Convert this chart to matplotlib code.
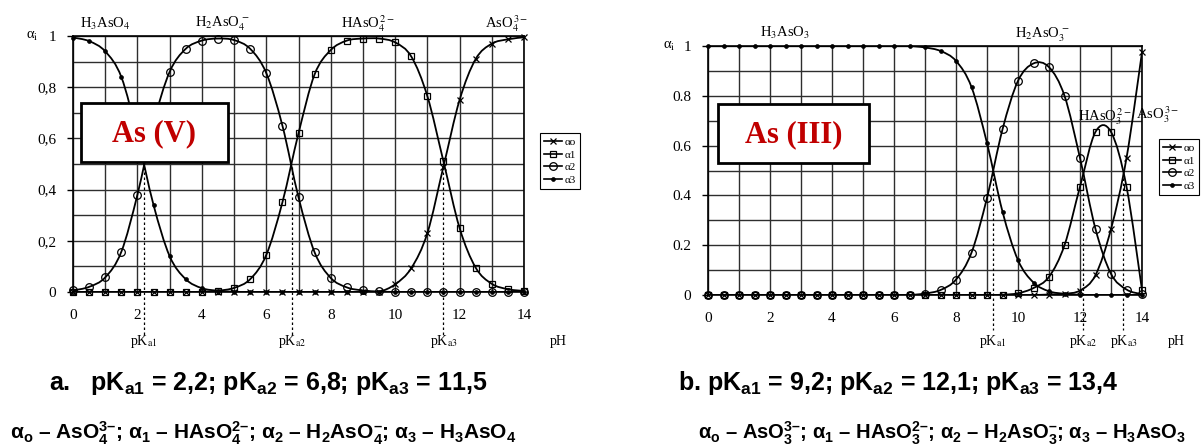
import numpy as np
import matplotlib
matplotlib.use("Agg")
import matplotlib.pyplot as plt
from matplotlib.path import Path
from matplotlib.patches import PathPatch, Rectangle
from matplotlib.lines import Line2D

plt.rcParams['font.family'] = ['Liberation Serif', 'DejaVu Serif']
plt.rcParams['mathtext.fontset'] = 'stix'
plt.rcParams['mathtext.rm'] = 'Liberation Sans:bold'
plt.rcParams['mathtext.it'] = 'Liberation Sans:bold'
plt.rcParams['mathtext.bf'] = 'Liberation Sans:bold'

# pH grid (markers every 0.5)
ph = np.arange(0, 14.01, 0.5)

# As(V)
a0_v = [0, 0, 0, 0, 0, 0, 0, 0, 0, 0, 0, 0, 0, 0, 0, 0, 0, 0, 0, 0.001,
        0.03, 0.093, 0.23, 0.49, 0.75, 0.91, 0.97, 0.987, 0.995]
a1_v = [0, 0, 0, 0, 0, 0, 0, 0, 0.001, 0.005, 0.016, 0.05, 0.145, 0.35, 0.62,
        0.85, 0.945, 0.982, 0.99, 0.99, 0.975, 0.92, 0.765, 0.51, 0.25, 0.095,
        0.032, 0.011, 0.004]
a2_v = [0.006, 0.02, 0.057, 0.157, 0.38, 0.66, 0.86, 0.95, 0.982, 0.99, 0.984,
        0.95, 0.855, 0.65, 0.37, 0.155, 0.055, 0.018, 0.006, 0.002, 0, 0, 0,
        0, 0, 0, 0, 0, 0]
a3_v = [0.994, 0.98, 0.94, 0.84, 0.61, 0.34, 0.14, 0.05, 0.015, 0.005, 0.001,
        0, 0, 0, 0, 0, 0, 0, 0, 0, 0, 0, 0, 0, 0, 0, 0, 0, 0]

# As(III)
a0_iii = [0, 0, 0, 0, 0, 0, 0, 0, 0, 0, 0, 0, 0, 0, 0, 0, 0, 0, 0, 0, 0, 0,
          0.002, 0.005, 0.018, 0.08, 0.265, 0.55, 0.975]
a1_iii = [0, 0, 0, 0, 0, 0, 0, 0, 0, 0, 0, 0, 0, 0, 0, 0, 0, 0, 0, 0.001,
          0.007, 0.028, 0.073, 0.2, 0.435, 0.655, 0.655, 0.435, 0.02]
a2_iii = [0, 0, 0, 0, 0, 0, 0, 0, 0, 0, 0, 0, 0, 0, 0.006, 0.02, 0.062, 0.17,
          0.39, 0.665, 0.86, 0.93, 0.915, 0.8, 0.55, 0.265, 0.085, 0.022, 0.003]
a3_iii = [1, 1, 1, 1, 1, 1, 1, 1, 1, 1, 1, 1, 1, 1, 0.994, 0.98, 0.94, 0.835,
          0.61, 0.335, 0.14, 0.05, 0.015, 0.005, 0.001, 0, 0, 0, 0]

pka_v = [2.2, 6.8, 11.5]
pka_iii = [9.2, 12.1, 13.4]

W, H = 1204, 446


def fx(px):
    return px / W


def fy(py):
    return 1 - py / H


def smooth_path(x, y):
    # excel-like smoothed line through the points
    n = len(x)
    verts = [(x[0], y[0])]
    codes = [Path.MOVETO]
    for i in range(n - 1):
        x0, y0 = (x[i - 1], y[i - 1]) if i > 0 else (x[i], y[i])
        x3, y3 = (x[i + 2], y[i + 2]) if i + 2 < n else (x[i + 1], y[i + 1])
        c1 = (x[i] + (x[i + 1] - x0) / 6, y[i] + (y[i + 1] - y0) / 6)
        c2 = (x[i + 1] - (x3 - x[i]) / 6, y[i + 1] - (y3 - y[i]) / 6)
        verts += [c1, c2, (x[i + 1], y[i + 1])]
        codes += [Path.CURVE4] * 3
    return Path(verts, codes)


styles = [dict(marker='x', ms=5, mew=0.9, mfc='none'),
          dict(marker='s', ms=5, mew=0.9, mfc='none'),
          dict(marker='o', ms=5.5, mew=0.9, mfc='none'),
          dict(marker='o', ms=2.8, mew=0.5, mfc='black')]
names = ['αo', 'α1', 'α2', 'α3']


def draw_panel(ax, series, pkas, dec, dash_bottom):
    ax.set_xlim(0, 14)
    ax.set_ylim(0, 1)
    ax.set_xticks(np.arange(0, 15, 1), minor=True)
    ax.set_xticks(np.arange(0, 15, 2))
    ax.set_yticks(np.arange(0, 1.01, 0.1), minor=True)
    ax.set_yticks(np.arange(0, 1.01, 0.2))
    ax.set_yticklabels(['0'] + [('%.1f' % v).replace('.', dec) for v in np.arange(0.2, 0.9, 0.2)] + ['1'])
    ax.grid(True, which='both', color='#2e2e2e', lw=1.0)
    ax.set_axisbelow(True)
    ax.tick_params(axis='x', which='both', length=0, pad=12, labelsize=11)
    ax.tick_params(axis='y', which='major', length=4, width=1, pad=8, labelsize=11)
    ax.tick_params(axis='y', which='minor', length=0)
    for s in ax.spines.values():
        s.set_linewidth(1.2)
    for vals, st in zip(series, styles):
        ax.add_patch(PathPatch(smooth_path(ph, vals), fill=False, lw=1.3,
                               edgecolor='black', zorder=3))
        ax.plot(ph, vals, linestyle='none', color='black', clip_on=False,
                zorder=4, **st)
    for i, p in enumerate(pkas):
        ax.plot([p, p], [0.49, dash_bottom], color='black', lw=0.9,
                linestyle=(0, (2, 2)), clip_on=False, zorder=5)
        # pKa label centred under its dashed line
        ax.annotate(r'pK$_\mathrm{a%d}$' % (i + 1), xy=(p, fy(342)),
                    xycoords=('data', 'figure fraction'), fontsize=10,
                    ha='center', va='center', annotation_clip=False)


fig = plt.figure(figsize=(W / 100, H / 100), dpi=100)
ax1 = fig.add_axes([fx(73), fy(292), fx(524 - 73), (292 - 36) / H])
ax2 = fig.add_axes([fx(708), fy(295), fx(1142 - 708), (295 - 46) / H])

draw_panel(ax1, [a0_v, a1_v, a2_v, a3_v], pka_v, ',', -0.17)
draw_panel(ax2, [a0_iii, a1_iii, a2_iii, a3_iii], pka_iii, '.', -0.14)

# legends
handles = [Line2D([], [], color='black', lw=1.2, **st) for st in styles]
for cx, cy in [(560, 161), (1179, 167)]:
    leg = fig.legend(handles, names, loc='center', bbox_to_anchor=(fx(cx), fy(cy)),
                     fontsize=8, handlelength=1.6, handletextpad=0.2,
                     labelspacing=0.25, borderpad=0.35, fancybox=False,
                     framealpha=1, edgecolor='black', borderaxespad=0)
    leg.get_frame().set_linewidth(0.8)

# species labels
fs = 10.5
fig.text(fx(32), fy(36), r'α$_\mathrm{i}$', fontsize=fs, ha='center', va='center')
fig.text(fx(105), fy(24), r'H$_3$AsO$_4$', fontsize=fs, ha='center', va='center')
fig.text(fx(222), fy(24), r'H$_2$AsO$_4^{\,-}$', fontsize=fs, ha='center', va='center')
fig.text(fx(368), fy(24), r'HAsO$_4^{\,2-}$', fontsize=fs, ha='center', va='center')
fig.text(fx(507), fy(24), r'AsO$_4^{\,3-}$', fontsize=fs, ha='center', va='center')

fig.text(fx(669), fy(46), r'α$_\mathrm{i}$', fontsize=fs, ha='center', va='center')
fig.text(fx(785), fy(33), r'H$_3$AsO$_3$', fontsize=fs, ha='center', va='center')
fig.text(fx(1042), fy(35), r'H$_2$AsO$_3^{\,-}$', fontsize=fs, ha='center', va='center')
fig.text(fx(1105), fy(117), r'HAsO$_3^{\,2-}$', fontsize=fs, ha='center', va='center')
fig.text(fx(1158), fy(115), r'AsO$_3^{\,3-}$', fontsize=fs, ha='center', va='center')

fig.text(fx(558), fy(342), 'pH', fontsize=10, ha='center', va='center')
fig.text(fx(1176), fy(342), 'pH', fontsize=10, ha='center', va='center')

# As(V) / As(III) boxes
for (x0, x1, y0, y1), label in [((81, 228, 103, 162), 'As (V)'),
                                 ((718, 869, 104, 163), 'As (III)')]:
    fig.patches.append(Rectangle((fx(x0), fy(y1)), fx(x1 - x0), (y1 - y0) / H,
                                 transform=fig.transFigure, facecolor='white',
                                 edgecolor='black', lw=2, zorder=10))
    fig.text(fx((x0 + x1) / 2), fy((y0 + y1) / 2 + 1), label, fontsize=22,
             fontweight='bold', color='#c00000', ha='center', va='center', zorder=11)

# captions
cap = dict(family='Liberation Sans', fontweight='bold', ha='center', va='baseline',
           math_fontfamily='custom')
fig.text(fx(268), fy(390),
         r'a.   pK$_\mathrm{a1}$ = 2,2; pK$_\mathrm{a2}$ = 6,8; pK$_\mathrm{a3}$ = 11,5',
         fontsize=18, **cap)
fig.text(fx(898), fy(390),
         r'b. pK$_\mathrm{a1}$ = 9,2; pK$_\mathrm{a2}$ = 12,1; pK$_\mathrm{a3}$ = 13,4',
         fontsize=18, **cap)
fig.text(fx(263), fy(439),
         r'α$_\mathrm{o}$ – AsO$_4^{3–}$; α$_1$ – HAsO$_4^{2–}$; α$_2$ – H$_2$AsO$_4^{–}$; α$_3$ – H$_3$AsO$_4$',
         fontsize=15, **cap)
fig.text(fx(942), fy(439),
         r'α$_\mathrm{o}$ – AsO$_3^{3–}$; α$_1$ – HAsO$_3^{2–}$; α$_2$ – H$_2$AsO$_3^{–}$; α$_3$ – H$_3$AsO$_3$',
         fontsize=14.5, **cap)

fig.savefig('out.png', dpi=100)
